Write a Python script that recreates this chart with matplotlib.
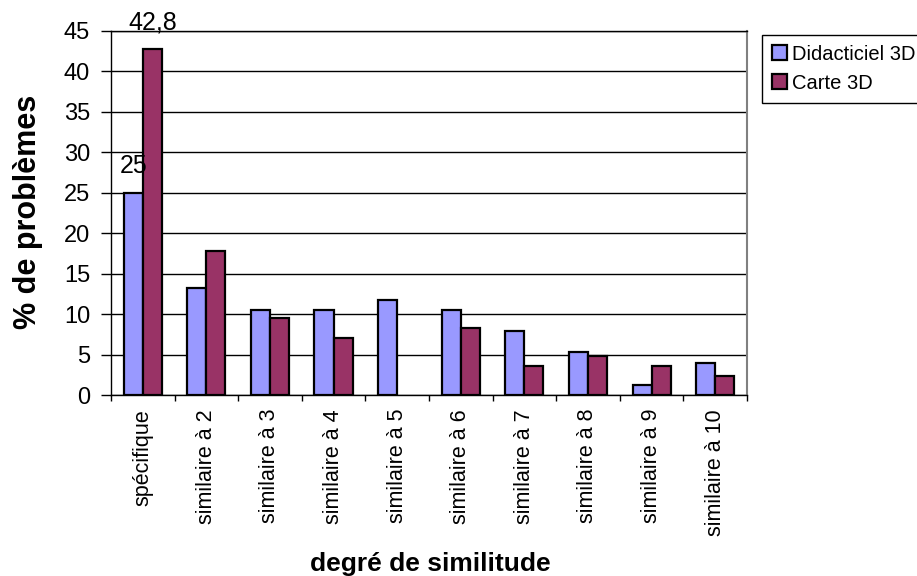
import matplotlib.pyplot as plt
import numpy as np

plt.rcParams['font.family'] = ['Liberation Sans', 'DejaVu Sans']

categories = ['spécifique', 'similaire à 2', 'similaire à 3', 'similaire à 4', 'similaire à 5',
              'similaire à 6', 'similaire à 7', 'similaire à 8', 'similaire à 9', 'similaire à 10']
didacticiel = [25, 13.2, 10.5, 10.5, 11.8, 10.5, 7.9, 5.3, 1.3, 3.9]
carte = [42.8, 17.8, 9.5, 7.1, 0, 8.3, 3.6, 4.8, 3.6, 2.4]
yticks = [0, 5, 10, 15, 20, 25, 30, 35, 40, 45]

blue = '#9999FF'
purple = '#993366'

fig = plt.figure(figsize=(9.17, 5.76), dpi=100)
ax = fig.add_axes([0.121, 0.3142, 0.6936, 0.632])

x = np.arange(len(categories))
w = 0.3
# no outline on empty bars (Excel draws nothing there)
lw1 = [1.6 if v > 0 else 0 for v in didacticiel]
lw2 = [1.6 if v > 0 else 0 for v in carte]
b1 = ax.bar(x - w / 2, didacticiel, w, color=blue, edgecolor='black', linewidth=lw1,
            label='Didacticiel 3D', zorder=3)
b2 = ax.bar(x + w / 2, carte, w, color=purple, edgecolor='black', linewidth=lw2,
            label='Carte 3D', zorder=3)

# value labels only on the first group
ax.annotate('25', (x[0] - w / 2, didacticiel[0]), xytext=(0, 14), textcoords='offset points',
            ha='center', va='baseline', fontsize=18)
ax.annotate('42,8', (x[0] + w / 2, carte[0]), xytext=(0, 14), textcoords='offset points',
            ha='center', va='baseline', fontsize=18, annotation_clip=False)

ax.set_xlim(-0.5, len(categories) - 0.5)
ax.set_ylim(0, 45)
ax.set_yticks(yticks)
ax.tick_params(axis='y', direction='out', length=7, width=1, pad=8, labelsize=17)
ax.yaxis.grid(True, color='black', linewidth=1, zorder=0)

ax.set_xticks(x)
ax.set_xticklabels(categories, rotation=90, fontsize=15.5, va='top')
ax.tick_params(axis='x', which='major', length=0, pad=10)
ax.set_xticks(np.arange(len(categories) + 1) - 0.5, minor=True)
ax.tick_params(axis='x', which='minor', direction='out', length=4.5, width=1)

for s in ['left', 'bottom', 'top']:
    ax.spines[s].set_color('black')
    ax.spines[s].set_linewidth(1)
ax.spines['right'].set_color('#808080')
ax.spines['right'].set_linewidth(1.5)

ax.set_ylabel('% de problèmes', fontsize=22, fontweight='bold')
ax.yaxis.set_label_coords(-0.107, 0.504)
ax.set_xlabel('degré de similitude', fontsize=19, fontweight='bold')
ax.xaxis.set_label_coords(0.502, -0.432)

leg = fig.legend(handles=[b1, b2], loc='upper left', bbox_to_anchor=(0.831, 0.94),
                 fontsize=14.5, frameon=True, fancybox=False, framealpha=1,
                 edgecolor='black', handlelength=0.75, handleheight=0.75,
                 handletextpad=0.25, labelspacing=0.5, borderpad=0.5, borderaxespad=0)
leg.get_frame().set_linewidth(1)

fig.savefig('out.png', dpi=100)
